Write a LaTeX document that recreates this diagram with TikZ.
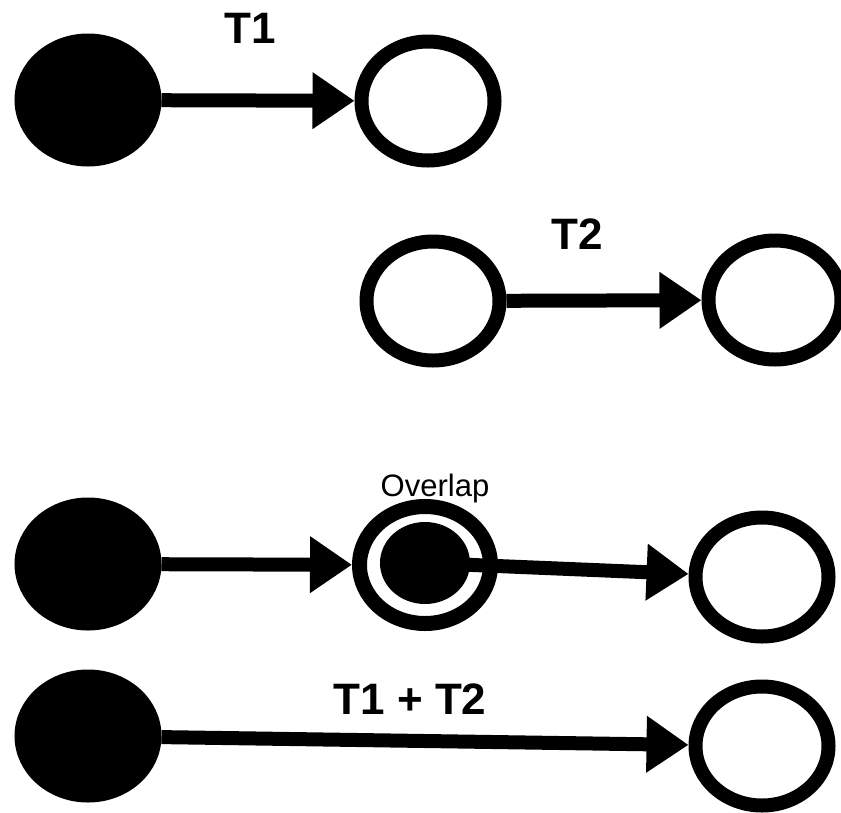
\documentclass[tikz,border=0pt]{standalone}
\usepackage{fontspec}
\setmainfont{Liberation Sans}
\usetikzlibrary{arrows.meta,shapes.geometric}
\begin{document}
\begin{tikzpicture}[x=1pt,y=-1pt,
  blob/.style={ellipse,draw=black,line width=14pt,inner sep=0pt,minimum width=133pt,minimum height=119pt},
  full/.style={blob,fill=black},
  empty/.style={blob,fill=white},
  core/.style={ellipse,fill=black,draw=none,inner sep=0pt,minimum width=90pt,minimum height=82pt},
  conn/.style={line width=14pt,-{Triangle[length=42pt,width=54pt]}},
  lbl/.style={font=\fontsize{44}{50}\selectfont\bfseries},
  lblr/.style={font=\fontsize{31}{36}\selectfont,inner sep=0pt}]
\useasboundingbox (0,0) rectangle (841,812);
% row 1
\node[full] (a1) at (88,100) {};
\node[empty] (b1) at (428,101) {};
\draw[conn] (a1) -- (b1);
\node[lbl] (t1) at (250,28) {T1};
% row 2
\node[empty] (a2) at (433,301) {};
\node[empty] (b2) at (775,300) {};
\draw[conn] (a2) -- (b2);
\node[lbl] (t2) at (577,234) {T2};
% row 3
\node[full] (a3) at (88,564) {};
\node[blob,line width=15pt,minimum width=131pt,minimum height=117pt] (o3) at (425,565) {};
\node[core] (c3) at (425,563) {};
\node[empty] (b3) at (762,577) {};
\draw[conn] (a3) -- (o3);
\draw[conn] (c3.center) -- (b3);
\node[lblr,anchor=base] (ov) at (435,496) {Overlap};
% row 4
\node[full] (a4) at (88,736) {};
\node[empty] (b4) at (762,746) {};
\draw[conn] (a4) -- (b4);
\node[lbl] (t12) at (410,699) {T1 + T2};
\end{tikzpicture}
\end{document}
